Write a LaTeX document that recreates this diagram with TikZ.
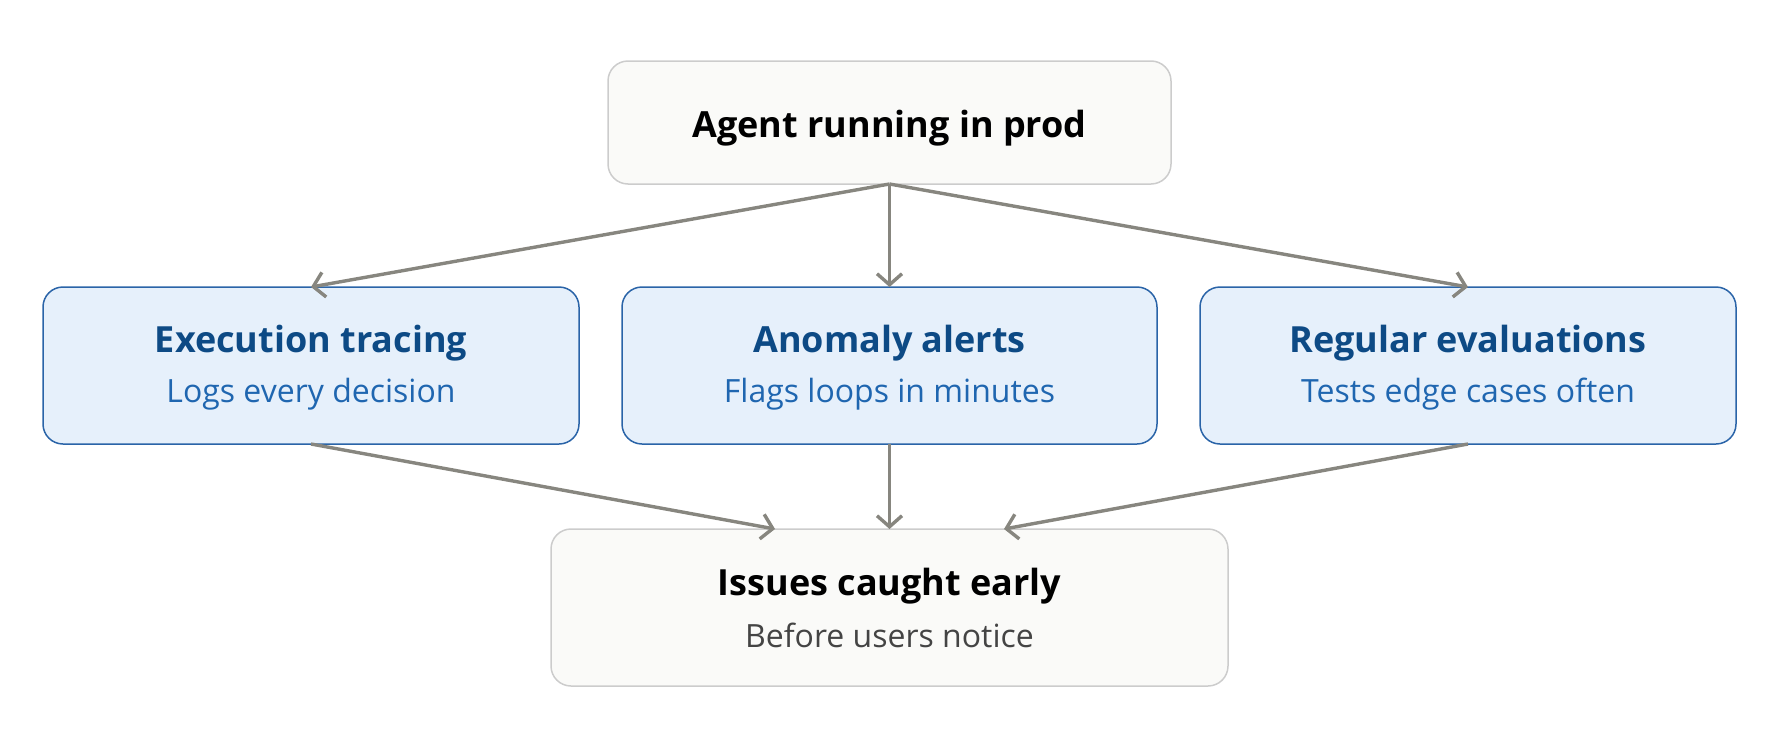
\documentclass[tikz,border=0pt]{standalone}
\usepackage{fontspec}
\setmainfont{Open Sans}
\usetikzlibrary{arrows.meta}
\definecolor{neutralfill}{HTML}{FAFAF8}
\definecolor{neutraldraw}{HTML}{CCCCCC}
\definecolor{bluefill}{HTML}{E6F0FB}
\definecolor{bluedraw}{HTML}{2A64A8}
\definecolor{bluetitle}{HTML}{0D4A85}
\definecolor{bluesub}{HTML}{1F66B0}
\definecolor{arrowgray}{HTML}{87867F}
\definecolor{subgray}{HTML}{444444}
\tikzset{
  neutralbox/.style={draw=neutraldraw, fill=neutralfill, line width=1.5pt, rounded corners=20pt},
  bluebox/.style={draw=bluedraw, fill=bluefill, line width=1.5pt, rounded corners=20pt},
  titletext/.style={font=\fontsize{36}{42}\selectfont\bfseries},
  subtext/.style={font=\fontsize{32}{38}\selectfont},
  conn/.style={draw=arrowgray, line width=3.4pt, -{Straight Barb[length=11pt,width=25pt,line width=3.4pt]}},
}
\begin{document}
\begin{tikzpicture}[x=1pt,y=-1pt]
\useasboundingbox (0,0) rectangle (1781,750);
% boxes
\path[neutralbox] (608,61) rectangle (1171,184);
\path[bluebox] (43,287) rectangle (579,444);
\path[bluebox] (622,287) rectangle (1157,444);
\path[bluebox] (1200,287) rectangle (1736,444);
\path[neutralbox] (551,529) rectangle (1228,686);
% text
\node[titletext, text=black] (top) at (889.5,128) {Agent running in prod};
\node[titletext, text=bluetitle] (m1t) at (311,343) {Execution tracing};
\node[subtext, text=bluesub] (m1s) at (311,394) {Logs every decision};
\node[titletext, text=bluetitle] (m2t) at (889.5,343) {Anomaly alerts};
\node[subtext, text=bluesub] (m2s) at (889.5,394) {Flags loops in minutes};
\node[titletext, text=bluetitle] (m3t) at (1468,343) {Regular evaluations};
\node[subtext, text=bluesub] (m3s) at (1468,394) {Tests edge cases often};
\node[titletext, text=black] (bt) at (889.5,586) {Issues caught early};
\node[subtext, text=subgray] (bs) at (889.5,635) {Before users notice};
% anchors
\coordinate (topb) at (889.5,184);
\coordinate (m1top) at (311,287);
\coordinate (m2top) at (889.5,287);
\coordinate (m3top) at (1468,287);
\coordinate (m1bot) at (311,444);
\coordinate (m2bot) at (889.5,444);
\coordinate (m3bot) at (1468,444);
\coordinate (b1) at (775,529);
\coordinate (b2) at (889.5,529);
\coordinate (b3) at (1004,529);
\draw[conn] (topb) -- (m1top);
\draw[conn] (topb) -- (m2top);
\draw[conn] (topb) -- (m3top);
\draw[conn] (m1bot) -- (b1);
\draw[conn] (m2bot) -- (b2);
\draw[conn] (m3bot) -- (b3);
\end{tikzpicture}
\end{document}
